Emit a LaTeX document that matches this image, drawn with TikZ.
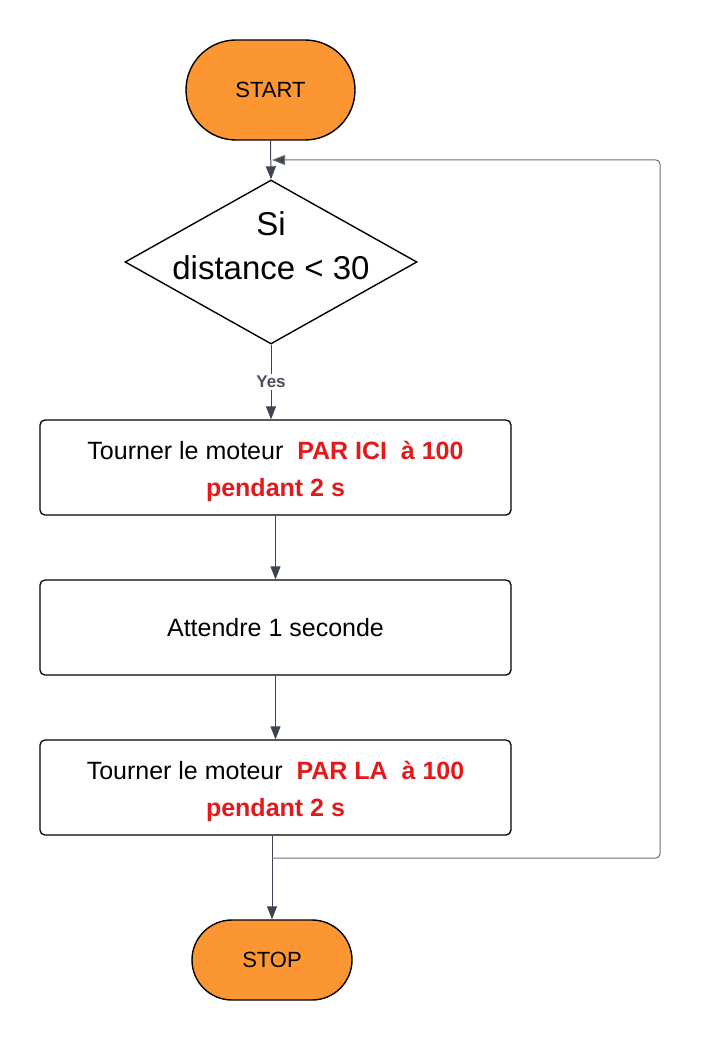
\documentclass[tikz,border=0pt]{standalone}
\usepackage{fontspec}
\setmainfont{Liberation Sans}
\usetikzlibrary{shapes.geometric,shapes.misc,arrows.meta}
\definecolor{termfill}{HTML}{FB9633}
\definecolor{linegray}{HTML}{3E4451}
\definecolor{loopgray}{HTML}{6B7078}
\definecolor{hired}{HTML}{E3191B}
\definecolor{labelgray}{HTML}{4A4F5A}
\newcommand{\hl}[1]{\textcolor{hired}{\bfseries #1}}
\begin{document}
\begin{tikzpicture}[x=1pt,y=-1pt,
  terminal/.style={draw=black,line width=1.4pt,fill=termfill,rounded rectangle,
    inner sep=0pt,font=\fontsize{22}{26}\selectfont},
  decision/.style={draw=black,line width=1.4pt,diamond,aspect=1.78,inner sep=0pt,
    minimum width=292pt,minimum height=164pt},
  condlabel/.style={align=center,inner sep=0pt,font=\fontsize{33}{44}\selectfont},
  process/.style={draw=black,line width=1.3pt,rounded corners=5pt,
    minimum width=471pt,minimum height=95pt},
  proclabel/.style={align=center,inner sep=0pt,font=\fontsize{25}{37}\selectfont},
  flow/.style={draw=linegray,line width=1pt,-{Triangle[length=13pt,width=10pt]}},
  loopline/.style={draw=loopgray,line width=1pt,rounded corners=4pt,
    -{Triangle[length=13pt,width=10pt,fill=linegray]}},
  edgelabel/.style={fill=white,inner sep=2pt,text=labelgray,
    font=\fontsize{17}{19}\selectfont\bfseries}]
\useasboundingbox (0,0) rectangle (701,1040);

% terminals, decision and process boxes
\node[terminal,minimum width=169pt,minimum height=100pt] (start) at (270.5,90) {START};
\node[decision] (cond) at (271,262) {};
\node[condlabel] (condtext) at ([yshift=16pt]cond.center) {Si\\distance < 30};
\node[process] (act1) at (275.5,467.5) {};
\node[proclabel] (act1text) at ([yshift=-4pt]act1.center)
  {Tourner le moteur\ \ \hl{PAR ICI\ \ à 100}\\\hl{pendant 2 s}};
\node[process] (wait) at (275.5,627.5) {};
\node[proclabel] (waittext) at (wait.center) {Attendre 1 seconde};
\node[process] (act2) at (275.5,787.5) {};
\node[proclabel] (act2text) at ([yshift=-4pt]act2.center)
  {Tourner le moteur\ \ \hl{PAR LA\ \ à 100}\\\hl{pendant 2 s}};
\node[terminal,minimum width=160pt,minimum height=80pt] (stop) at (272,960) {STOP};

% return path of the loop
\coordinate (loopstart) at (272,858);
\coordinate (loopcorner1) at (660,858);
\coordinate (loopcorner2) at (660,160);
\coordinate (merge) at (272,160);

% connectors
\draw[flow] (start.south) -- (cond.north);
\draw[flow] (cond.south) -- node[edgelabel] {Yes} (cond.south |- act1.north);
\draw[flow] (act1.south) -- (wait.north);
\draw[flow] (wait.south) -- (act2.north);
\draw[flow] (stop.north |- act2.south) -- (stop.north);
\draw[loopline] (loopstart) -- (loopcorner1) -- (loopcorner2) -- (merge);
\end{tikzpicture}
\end{document}
